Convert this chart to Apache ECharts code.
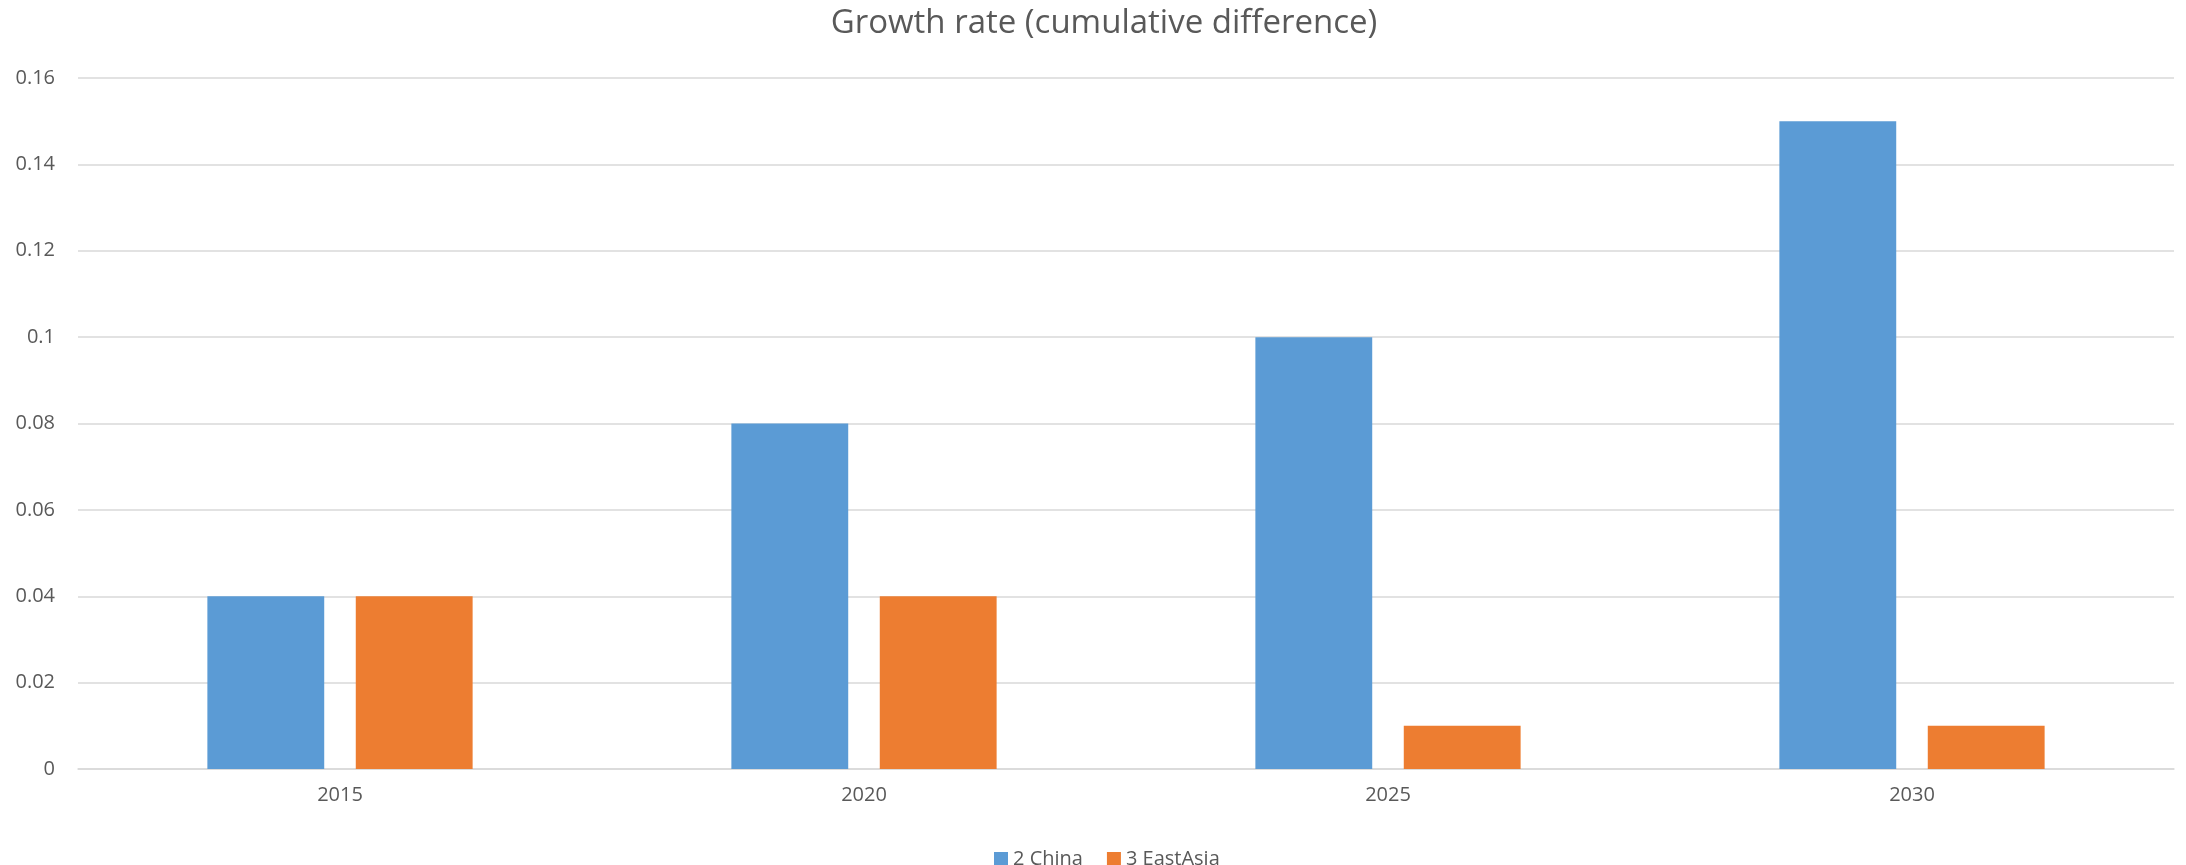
<!DOCTYPE html>
<html>
<head>
<meta charset="utf-8">
<script src="https://cdn.jsdelivr.net/npm/echarts@6/dist/echarts.min.js"></script>
<style>html,body{margin:0;padding:0;background:#fff}#c{width:2186px;height:865px}</style>
</head>
<body>
<div id="c"></div>
<script>
const categories = ['2015', '2020', '2025', '2030'];
const chinaValues = [0.04, 0.08, 0.10, 0.15];
const eastAsiaValues = [0.04, 0.04, 0.01, 0.01];
const seriesNames = ['2 China', '3 EastAsia'];
const titleText = 'Growth rate (cumulative difference)';

const FONT = '"Open Sans", "Noto Sans", sans-serif';
const TXT = '#595959';
const chart = echarts.init(document.getElementById('c'), null, {renderer: 'canvas'});
chart.setOption({
  backgroundColor: '#ffffff',
  animation: false,
  title: {
    text: titleText,
    left: 1099, textAlign: 'center', top: 2,
    textStyle: {fontFamily: FONT, fontSize: 33, fontWeight: 'normal', color: TXT}
  },
  legend: {
    data: seriesNames,
    left: 989, top: 844,
    itemWidth: 14, itemHeight: 14, itemGap: 24,
    icon: 'rect',
    textStyle: {fontFamily: FONT, fontSize: 20, color: TXT, padding: [0, 0, 0, 0]}
  },
  grid: {left: 78, right: 12, top: 78, bottom: 96, containLabel: false},
  xAxis: {
    type: 'category', data: categories,
    axisLine: {show: true, lineStyle: {color: '#d9d9d9', width: 1.5}},
    axisTick: {show: false},
    axisLabel: {fontFamily: FONT, fontSize: 20, color: TXT, margin: 16}
  },
  yAxis: {
    type: 'value', min: 0, max: 0.16, interval: 0.02,
    axisLine: {show: false}, axisTick: {show: false},
    axisLabel: {fontFamily: FONT, fontSize: 20, color: TXT, margin: 23,
      formatter: v => String(+v.toFixed(2))},
    splitLine: {lineStyle: {color: '#d9d9d9', width: 1.5}}
  },
  series: [
    {name: seriesNames[0], type: 'bar', data: chinaValues, barWidth: '22.3%', barGap: '27%',
     itemStyle: {color: '#5B9BD5'}},
    {name: seriesNames[1], type: 'bar', data: eastAsiaValues, barWidth: '22.3%', barGap: '27%',
     itemStyle: {color: '#ED7D31'}}
  ]
});
</script>
</body>
</html>
